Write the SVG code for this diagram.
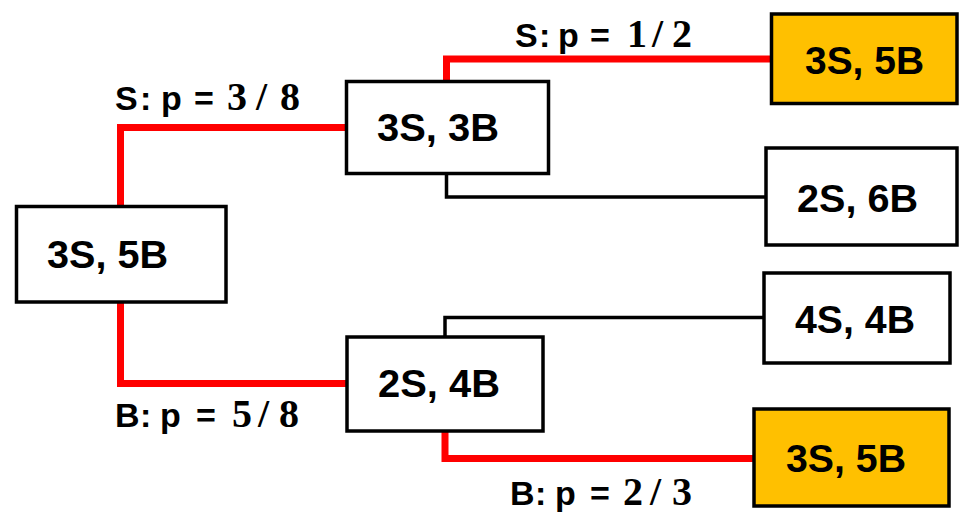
<svg xmlns="http://www.w3.org/2000/svg" width="961" height="512" viewBox="0 0 961 512">
<style>
.box{fill:#fff;stroke:#000;stroke-width:3.5}
.gold{fill:#FFC000}
.nt{font-family:"Liberation Sans",Arial,sans-serif;font-weight:bold;font-size:38px;fill:#000}
.lbl{font-family:"Liberation Sans",Arial,sans-serif;font-weight:bold;font-size:34px;fill:#000}
.num{font-family:"Liberation Serif","Times New Roman",serif;font-size:40px;font-weight:bold}
.red{fill:none;stroke:#FF0000;stroke-width:7}
.blk{fill:none;stroke:#000;stroke-width:3.5}
</style>
<rect width="961" height="512" fill="#fff"/>
<g id="connectors">
<path class="red" d="M120.5,206 V127.5 H347"/>
<path class="red" d="M120.5,302 V383.5 H347"/>
<path class="red" d="M446.5,81 V59 H771"/>
<path class="blk" d="M446.5,174 V197 H766"/>
<path class="blk" d="M445,337 V317.5 H764"/>
<path class="red" d="M445,431 V458.5 H754"/>
</g>
<g id="labels">
<text class="lbl" y="110"><tspan x="115 140 152 161 182 194">S: p =</tspan><tspan class="num" x="214 227 256 280"> 3/8</tspan></text>
<text class="lbl" y="47"><tspan x="515 539 551 558 579 590">S: p =</tspan><tspan class="num" x="612 627 652 672"> 1/2</tspan></text>
<text class="lbl" y="427"><tspan x="115 140 152 160 181 196">B: p =</tspan><tspan class="num" x="218 232 258 279"> 5/8</tspan></text>
<text class="lbl" y="505"><tspan x="510 535 547 555 576 590">B: p =</tspan><tspan class="num" x="611 623 650 672"> 2/3</tspan></text>
</g>
<g id="n-root">
<rect class="box" x="16.5" y="206.5" width="209.5" height="95.5"/>
<text class="nt" x="47" y="268" textLength="121" lengthAdjust="spacingAndGlyphs">3S, 5B</text>
</g>
<g id="n-3s3b">
<rect class="box" x="346.5" y="81.5" width="202" height="92"/>
<text class="nt" x="377" y="141" textLength="122" lengthAdjust="spacingAndGlyphs">3S, 3B</text>
</g>
<g id="n-2s4b">
<rect class="box" x="347" y="337" width="196" height="94"/>
<text class="nt" x="378" y="397" textLength="122" lengthAdjust="spacingAndGlyphs">2S, 4B</text>
</g>
<g id="n-top-gold">
<rect class="box gold" x="771.5" y="14" width="185.5" height="89.5"/>
<text class="nt" x="805" y="74" textLength="119" lengthAdjust="spacingAndGlyphs">3S, 5B</text>
</g>
<g id="n-2s6b">
<rect class="box" x="766" y="148" width="191" height="97"/>
<text class="nt" x="797" y="212" textLength="121" lengthAdjust="spacingAndGlyphs">2S, 6B</text>
</g>
<g id="n-4s4b">
<rect class="box" x="764" y="273" width="186" height="90"/>
<text class="nt" x="795" y="333" textLength="120" lengthAdjust="spacingAndGlyphs">4S, 4B</text>
</g>
<g id="n-bottom-gold">
<rect class="box gold" x="754" y="409" width="195" height="97"/>
<text class="nt" x="786" y="472" textLength="120" lengthAdjust="spacingAndGlyphs">3S, 5B</text>
</g>
</svg>
